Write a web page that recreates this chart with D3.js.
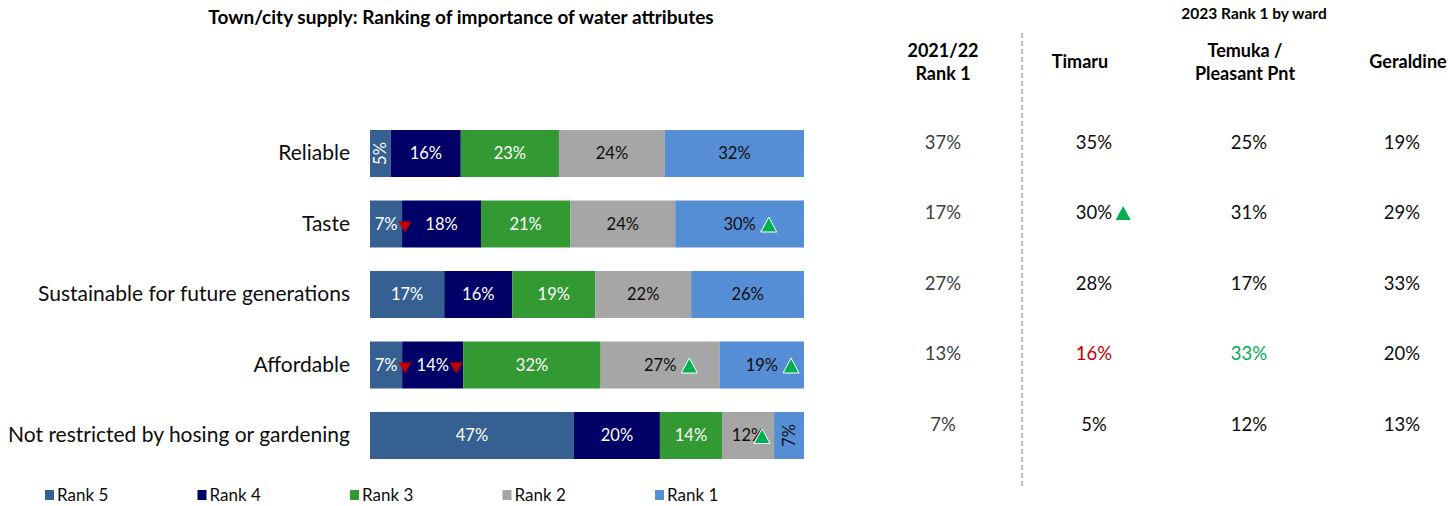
<!DOCTYPE html>
<html>
<head>
<meta charset="utf-8">
<script src="https://cdn.jsdelivr.net/npm/d3@7/dist/d3.min.js"></script>
<style>
  html, body { margin: 0; padding: 0; background: #fff; }
  svg { display: block; font-family: Lato, "Open Sans", sans-serif; }
</style>
</head>
<body>
<svg id="chart" width="1455" height="506"></svg>
<script>
// ---------------- DATA ----------------
const categories = [
  "Reliable",
  "Taste",
  "Sustainable for future generations",
  "Affordable",
  "Not restricted by hosing or gardening"
];
const rankKeys = ["Rank 5", "Rank 4", "Rank 3", "Rank 2", "Rank 1"];

// share of respondents (%)
const rank5 = [4.8, 7.4, 17.1, 7.4, 47.0];
const rank4 = [16.1, 18.2, 15.7, 14.1, 19.8];
const rank3 = [22.6, 20.6, 19.1, 31.6, 14.3];
const rank2 = [24.4, 24.2, 22.1, 27.4, 12.0];
const rank1 = [32.0, 29.7, 26.0, 19.4, 6.9];

// significant change vs 2021/22 (+1 up, -1 down)
const rank5Change = [0, -1, 0, -1, 0];
const rank4Change = [0, 0, 0, -1, 0];
const rank3Change = [0, 0, 0, 0, 0];
const rank2Change = [0, 0, 0, 1, 1];
const rank1Change = [0, 1, 0, 1, 0];

// right-hand table
const prevRank1 = [37, 17, 27, 13, 7];
const timaruRank1 = [35, 30, 28, 16, 5];
const temukaRank1 = [25, 31, 17, 33, 12];
const geraldineRank1 = [19, 29, 33, 20, 13];
const timaruTrend = [0, 1, 0, 0, 0];      // triangle marker
const timaruSig = [0, 0, 0, -1, 0];       // coloured text
const temukaSig = [0, 0, 0, 1, 0];
const geraldineSig = [0, 0, 0, 0, 0];

const title = "Town/city supply: Ranking of importance of water attributes";
const wardTitle = "2023 Rank 1 by ward";

// ---------------- SETUP ----------------
const colors = {
  "Rank 5": "#376092",
  "Rank 4": "#000066",
  "Rank 3": "#339933",
  "Rank 2": "#A6A6A6",
  "Rank 1": "#558ED5"
};
const labelColor = {
  "Rank 5": "#ffffff", "Rank 4": "#ffffff", "Rank 3": "#ffffff",
  "Rank 2": "#0d0d0d", "Rank 1": "#0d0d0d"
};
const GREEN = "#00B050", RED = "#C00000";

const seriesValues = { "Rank 5": rank5, "Rank 4": rank4, "Rank 3": rank3, "Rank 2": rank2, "Rank 1": rank1 };
const seriesChange = { "Rank 5": rank5Change, "Rank 4": rank4Change, "Rank 3": rank3Change, "Rank 2": rank2Change, "Rank 1": rank1Change };

const rows = categories.map((c, i) => {
  const r = { category: c, idx: i };
  rankKeys.forEach(k => r[k] = seriesValues[k][i]);
  return r;
});

const svg = d3.select("#chart");

const x = d3.scaleLinear().domain([0, 1]).range([370, 804]);
const y = d3.scaleBand().domain(categories).range([118.25, 470.75])
  .paddingInner(1 / 3).paddingOuter(1 / 6);

const stacked = d3.stack().keys(rankKeys).offset(d3.stackOffsetExpand)(rows);

// title
svg.append("text")
  .attr("x", 461).attr("y", 24)
  .attr("text-anchor", "middle")
  .attr("font-weight", "bold").attr("font-size", 19)
  .attr("fill", "#000")
  .text(title);

// category axis labels
const yAxis = d3.axisLeft(y).tickSize(0).tickPadding(0);
const yg = svg.append("g").attr("transform", "translate(350,0)").call(yAxis);
yg.select(".domain").remove();
yg.selectAll("text")
  .attr("font-size", 21)
  .attr("font-family", "Lato, sans-serif")
  .attr("fill", "#0d0d0d");

const upTri = (cx, cy, w, h) => `M${cx - w / 2},${cy + h / 2}L${cx},${cy - h / 2}L${cx + w / 2},${cy + h / 2}Z`;
const downTri = (cx, cy, w, h) => `M${cx - w / 2},${cy - h / 2}L${cx + w / 2},${cy - h / 2}L${cx},${cy + h / 2}Z`;

// bars
const layers = svg.append("g").selectAll("g").data(stacked).join("g")
  .attr("fill", d => colors[d.key]);

layers.each(function (layer) {
  const g = d3.select(this);
  const key = layer.key;
  layer.forEach(seg => {
    const cat = seg.data.category;
    const i = seg.data.idx;
    const x0 = x(seg[0]), x1 = x(seg[1]);
    const w = x1 - x0;
    const y0 = y(cat), bh = y.bandwidth();
    const cy = y0 + bh / 2, cx = (x0 + x1) / 2;
    g.append("rect")
      .attr("x", x0).attr("y", y0)
      .attr("width", w).attr("height", bh);

    const label = Math.round(seriesValues[key][i]) + "%";
    const rotate = w < 31;
    const t = svg.append("text")
      .attr("text-anchor", "middle")
      .attr("dy", "0.35em")
      .attr("font-size", 16.5)
      .attr("fill", labelColor[key])
      .attr("transform", rotate ? `translate(${cx},${cy}) rotate(-90)` : `translate(${cx},${cy})`)
      .text(label);

    const ch = seriesChange[key][i];
    if (ch !== 0 && !rotate) {
      const tw = t.node().getComputedTextLength();
      const textEnd = cx + tw / 2;
      if (ch > 0) {
        let mx = textEnd + 5 + 8;
        mx = Math.min(mx, x1 - 4 - 8);
        svg.append("path")
          .attr("d", upTri(mx, cy + 0.5, 16, 15))
          .attr("fill", GREEN).attr("stroke", "#fff").attr("stroke-width", 1);
      } else {
        const mx = textEnd + 1 + 6.5;
        svg.append("path")
          .attr("d", downTri(mx, cy + 3, 13, 11))
          .attr("fill", RED);
      }
    }
  });
});

// legend
const legend = svg.append("g").selectAll("g").data(rankKeys.slice()).join("g")
  .attr("transform", (d, i) => `translate(${45 + i * 152.5},490)`);
legend.append("rect").attr("width", 9).attr("height", 10).attr("fill", d => colors[d]);
legend.append("text").attr("x", 12).attr("y", 5).attr("dy", "0.36em")
  .attr("font-size", 17).attr("fill", "#0d0d0d").text(d => d);

// ---------------- TABLE ----------------
svg.append("line")
  .attr("x1", 1022).attr("x2", 1022).attr("y1", 33).attr("y2", 488)
  .attr("stroke", "#a6a6a6").attr("stroke-width", 1.5)
  .attr("stroke-dasharray", "5,3");

svg.append("text")
  .attr("x", 1254).attr("y", 19).attr("text-anchor", "middle")
  .attr("font-weight", "bold").attr("font-size", 15.5).attr("fill", "#000")
  .text(wardTitle);

const columns = [
  { head: ["2021/22", "Rank 1"], hx: 943, vx: 943, vals: prevRank1, sig: [0, 0, 0, 0, 0], trend: [0, 0, 0, 0, 0], color: "#404040" },
  { head: ["Timaru"], hx: 1080, vx: 1094, vals: timaruRank1, sig: timaruSig, trend: timaruTrend, color: "#0d0d0d" },
  { head: ["Temuka /", "Pleasant Pnt"], hx: 1245, vx: 1249, vals: temukaRank1, sig: temukaSig, trend: [0, 0, 0, 0, 0], color: "#0d0d0d" },
  { head: ["Geraldine"], hx: 1408, vx: 1402, vals: geraldineRank1, sig: geraldineSig, trend: [0, 0, 0, 0, 0], color: "#0d0d0d" }
];

columns.forEach(col => {
  const ht = svg.append("text")
    .attr("text-anchor", "middle")
    .attr("font-weight", "bold").attr("font-size", 18).attr("fill", "#000");
  if (col.head.length === 2) {
    ht.append("tspan").attr("x", col.hx).attr("y", 57).text(col.head[0]);
    ht.append("tspan").attr("x", col.hx).attr("y", 80).text(col.head[1]);
  } else {
    ht.append("tspan").attr("x", col.hx).attr("y", 68).text(col.head[0]);
  }
  categories.forEach((cat, i) => {
    const cy = y(cat) + y.bandwidth() / 2 - 11;
    const s = col.sig[i];
    const t = svg.append("text")
      .attr("x", col.vx).attr("y", cy).attr("dy", "0.35em")
      .attr("text-anchor", "middle").attr("font-size", 18.5)
      .attr("fill", s > 0 ? GREEN : s < 0 ? RED : col.color)
      .text(col.vals[i] + "%");
    if (col.trend[i] > 0) {
      const tw = t.node().getComputedTextLength();
      svg.append("path")
        .attr("d", upTri(col.vx + tw / 2 + 4 + 7, cy, 15, 14))
        .attr("fill", GREEN);
    }
  });
});
</script>
</body>
</html>
